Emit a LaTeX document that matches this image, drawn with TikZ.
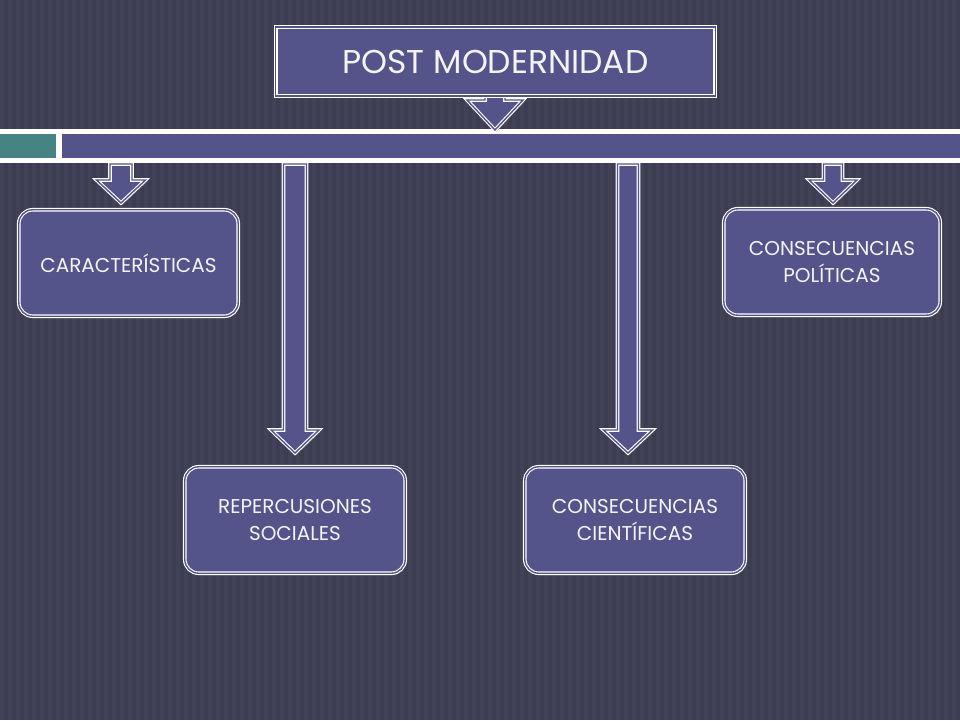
\documentclass[tikz,border=0pt]{standalone}
\usepackage{fontspec}
\setmainfont{Poppins}
\usetikzlibrary{calc,shadows}
\definecolor{bgc}{HTML}{3D3D52}
\definecolor{stripec}{HTML}{414157}
\definecolor{boxc}{HTML}{54548A}
\definecolor{tealc}{HTML}{468484}
\definecolor{textc}{HTML}{F4F4F8}
\tikzset{
  dbl/.style={draw=white, double=boxc, double distance=1.4pt, line width=1.1pt, fill=boxc},
  shad/.style={drop shadow={opacity=0.45, shadow xshift=1.5pt, shadow yshift=-2pt}},
  boxstyle/.style={dbl, shad, rounded corners=14pt, text=textc, align=center,
    font=\fontsize{20}{27}\selectfont, minimum height=106.5pt, inner sep=0pt},
  titlestyle/.style={dbl, shad, text=textc, font=\fontsize{33}{36}\selectfont,
    minimum width=439.5pt, minimum height=69pt, inner sep=0pt},
  arrowstyle/.style={dbl, shad, line join=miter},
}
\newcommand\blockarr[5]{%
  \draw[arrowstyle] ($(#1)+(-#3,0)$) -- ($(#1)+(#3,0)$) -- ($(#2)+(#3,-#5)$) --
    ($(#2)+(#4,-#5)$) -- (#2) -- ($(#2)+(-#4,-#5)$) -- ($(#2)+(-#3,-#5)$) -- cycle;}
\begin{document}
\begin{tikzpicture}[x=1pt,y=-1pt]
\useasboundingbox (0,0) rectangle (960,720);
\fill[bgc] (0,0) rectangle (960,720);
\foreach \x in {0,8,...,952} \fill[stripec] (\x,0) rectangle ({\x+4},720);
% band
\fill[white] (0,129) rectangle (960,163);
\fill[tealc] (0,134) rectangle (56,158);
\fill[boxc] (62,134) rectangle (960,158);
% coordinates for arrows
\coordinate (t0) at (495,90);
\coordinate (t1) at (495,130);
\coordinate (s1) at (121,164);
\coordinate (e1) at (121,203);
\coordinate (s2) at (295,164);
\coordinate (e2) at (295,453);
\coordinate (s3) at (628,164);
\coordinate (e3) at (628,453);
\coordinate (s4) at (833,164);
\coordinate (e4) at (833,203);
\blockarr{t0}{t1}{10}{28}{30}
\blockarr{s1}{e1}{11}{24.5}{23}
\blockarr{s2}{e2}{11.5}{24}{23}
\blockarr{s3}{e3}{10.5}{24.5}{23}
\blockarr{s4}{e4}{9.5}{24}{23}
% title
\node[titlestyle] (title) at (495.5,61.5) {POST MODERNIDAD};
% boxes
\node[boxstyle, minimum width=219.5pt] (car) at (128.5,263) {CARACTERÍSTICAS};
\node[boxstyle, minimum width=220.5pt] (rep) at (295,520) {REPERCUSIONES\\SOCIALES};
\node[boxstyle, minimum width=220.5pt] (cie) at (635,520) {CONSECUENCIAS\\CIENTÍFICAS};
\node[boxstyle, minimum width=216.5pt] (pol) at (832,262) {CONSECUENCIAS\\POLÍTICAS};
\end{tikzpicture}
\end{document}
